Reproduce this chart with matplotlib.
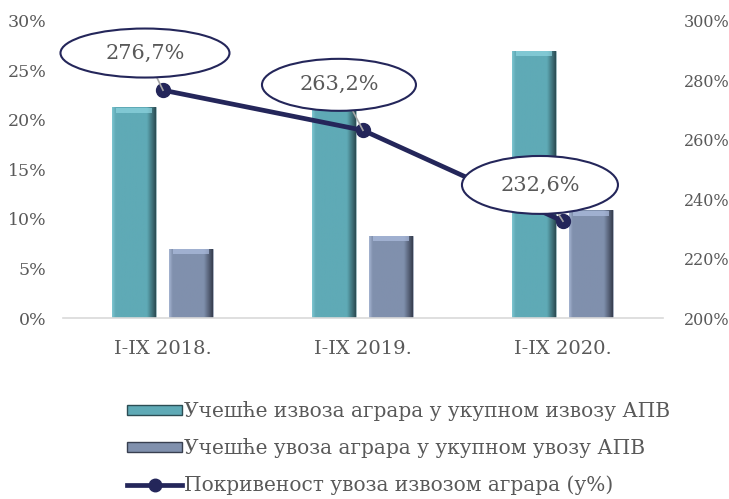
import matplotlib.pyplot as plt
import numpy as np
from matplotlib.patches import Ellipse
from matplotlib.lines import Line2D
from matplotlib.patches import Patch
from matplotlib.colors import LinearSegmentedColormap

plt.rcParams['font.family'] = ['DejaVu Serif']

categories = ['I-IX 2018.', 'I-IX 2019.', 'I-IX 2020.']
export_share = [21.3, 21.5, 27.0]
import_share = [7.0, 8.3, 10.9]
coverage = [276.7, 263.2, 232.6]
coverage_labels = ['276,7%', '263,2%', '232,6%']

labels = ['Учешће извоза аграра у укупном извозу АПВ',
          'Учешће увоза аграра у укупном увозу АПВ',
          'Покривеност увоза извозом аграра (у%)']

teal = '#5faab6'
slate = '#8090ad'
navy = '#24265a'
grey_txt = '#595959'

teal_cm = LinearSegmentedColormap.from_list('t', [(0, '#7cc4cf'), (0.08, teal), (0.8, teal), (1, '#2c4d54')])
slate_cm = LinearSegmentedColormap.from_list('s', [(0, '#a3b2cf'), (0.08, slate), (0.8, slate), (1, '#383f50')])


def shade(bars, cmap, top):
    grad = np.linspace(0, 1, 64).reshape(1, -1)
    for b in bars:
        x0, y0 = b.get_x(), b.get_y()
        im = b.axes.imshow(grad, cmap=cmap, aspect='auto', zorder=2,
                           extent=(x0, x0 + b.get_width(), y0, y0 + b.get_height()))
        im.set_clip_path(b)
        b.axes.bar(x0 + b.get_width() / 2, 0.5, b.get_width() * 0.8,
                   bottom=y0 + b.get_height() - 0.55, color=top, alpha=0.7, zorder=2.1)


fig = plt.figure(figsize=(7.29, 4.99), dpi=100)
ax = fig.add_axes([0.0864, 0.3627, 0.823, 0.5953])
x = np.arange(len(categories))
w = 0.22
b1 = ax.bar(x - 0.145, export_share, w, color=teal, edgecolor='#9fb7bb', linewidth=0.6)
b2 = ax.bar(x + 0.14, import_share, w, color=slate, edgecolor='#a5aebf', linewidth=0.6)
shade(b1, teal_cm, '#8fd5e0')
shade(b2, slate_cm, '#aebee0')
ax.set_xlim(-0.5, 2.5)
ax.set_ylim(0, 30)
ax.set_yticks(range(0, 31, 5))
ax.set_yticklabels([f'{v}%' for v in range(0, 31, 5)])
ax.set_xticks(x)
ax.set_xticklabels(categories)

ax2 = ax.twinx()
ax2.plot(x, coverage, color=navy, lw=3.4, marker='o', ms=10, zorder=3)
ax2.set_ylim(200, 300)
ax2.set_yticks(range(200, 301, 20))
ax2.set_yticklabels([f'{v}%' for v in range(200, 301, 20)])

# callout ellipses with leader lines
offsets = [(-0.09, 12.5), (-0.12, 15.3), (-0.115, 12.2)]
sizes = [(0.845, 16.5), (0.77, 17.5), (0.78, 19.5)]
for xi, yi, lab, (dx, dy), (ew, eh) in zip(x, coverage, coverage_labels, offsets, sizes):
    cx, cy = xi + dx, yi + dy
    ax2.plot([cx, xi], [cy, yi], color='#a6a6a6', lw=1.2, zorder=4)
    ax2.add_patch(Ellipse((cx, cy), ew, eh, facecolor='white', clip_on=False,
                          edgecolor=navy, lw=1.5, zorder=5))
    ax2.text(cx, cy, lab, ha='center', va='center', fontsize=15,
             color=grey_txt, zorder=6)

for a in (ax, ax2):
    for s in a.spines.values():
        s.set_visible(False)
    a.tick_params(length=0, labelcolor=grey_txt)
ax.spines['bottom'].set_visible(True)
ax.spines['bottom'].set_color('#d9d9d9')
ax.spines['bottom'].set_linewidth(1.2)
ax.tick_params(axis='x', pad=16, labelsize=14)
ax.tick_params(axis='y', pad=12, labelsize=12.5)
ax2.tick_params(axis='y', pad=15, labelsize=11.5)

handles = [Patch(facecolor=teal, edgecolor='#2c4d54'),
           Patch(facecolor=slate, edgecolor='#383f50'),
           Line2D([0], [0], color=navy, lw=3.4, marker='o', ms=9)]
leg = fig.legend(handles, labels, loc='upper left', bbox_to_anchor=(0.174, 0.196),
                 frameon=False, fontsize=14.5, handlelength=2.75, handleheight=0.4,
                 handletextpad=0.1, labelspacing=0.85, borderaxespad=0, borderpad=0)
for t in leg.get_texts():
    t.set_color(grey_txt)

plt.savefig('out.png', dpi=100)
